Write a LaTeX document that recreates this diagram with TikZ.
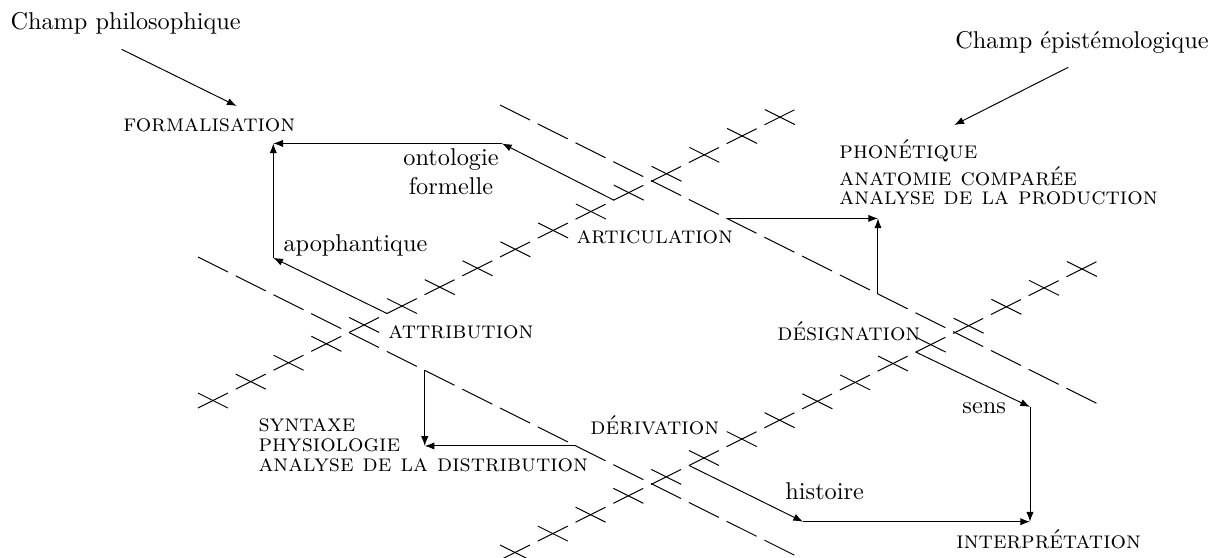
\documentclass[tikz,border=0pt]{standalone}
\usepackage{tikz}
\usetikzlibrary{arrows.meta}

\tikzset{
  fleche/.style={-{Latex[length=4pt,width=3pt]}},
  tirets/.style={dash pattern=on 0.485cm off 0.126cm},
  mot/.style={inner sep=0pt, anchor=base west},
  domaine/.style={mot, font=\scshape},
  serre/.style={domaine, align=left, font=\scshape\fontsize{10pt}{#1}\selectfont},
}

\begin{document}
\begin{tikzpicture}[scale=1.0]
    \useasboundingbox (0, 0) rectangle (17.627, 8.061);

    % les deux droites en tirets
    \draw[tirets] (7.236, 6.541) -- (15.875, 2.222);
    \draw[tirets] (2.865, 4.342) -- (11.504, 0.023);

    % les deux droites barrees
    \draw[tirets] (2.865, 2.156) -- (11.504, 6.475);
    \draw[tirets] (7.236, -0.043) -- (15.875, 4.276);
    \foreach \k in {0,...,15} {
        \draw ({2.865 + 0.547*\k}, {2.373 + 0.2735*\k}) -- ++(0.434, -0.217);
        \draw ({7.236 + 0.547*\k}, {0.174 + 0.2735*\k}) -- ++(0.434, -0.217);
    }

    % champs
    \node[mot] (philo) at (0.145, 7.627) {Champ philosophique};
    \node[mot] (episte) at (13.82, 7.352) {Champ épistémologique};
    \coordinate (philoFrom) at (1.761, 7.347);
    \coordinate (philoTo) at (3.425, 6.527);
    \coordinate (episteFrom) at (15.46, 7.087);
    \coordinate (episteTo) at (13.81, 6.252);
    \draw[fleche] (philoFrom) -- (philoTo);
    \draw[fleche] (episteFrom) -- (episteTo);

    % domaines
    \node[domaine] (formal) at (1.780, 6.165) {formalisation};
    \node[domaine] (phon) at (12.142, 5.760) {phonétique};
    \node[serre=7.5pt] (anat) at (12.142, 5.108) {anatomie comparée\\analyse de la production};
    \node[serre=8.2pt] (synt) at (3.734, 1.235) {syntaxe\\physiologie\\analyse de la distribution};
    \node[domaine] (interp) at (13.835, 0.130) {interprétation};

    % operations
    \node[domaine] (artic) at (8.336, 4.530) {articulation};
    \node[domaine] (attrib) at (5.615, 3.155) {attribution};
    \node[domaine] (design) at (11.244, 3.140) {désignation};
    \node[domaine] (deriv) at (8.538, 1.766) {dérivation};

    \node[align=center, inner sep=0pt] (onto) at (6.527, 5.572) {ontologie\\formelle};
    \node[mot] (apoph) at (4.096, 4.414) {apophantique};
    \node[mot] (sens) at (13.922, 2.084) {sens};
    \node[mot] (hist) at (11.360, 0.839) {histoire};

    \coordinate (ontoStart) at (8.882, 5.165);
    \coordinate (ontoCorner) at (7.265, 5.985);
    \coordinate (formCorner) at (3.955, 5.985);
    \coordinate (apoStart) at (5.600, 3.524);
    \coordinate (apoCorner) at (3.955, 4.330);
    \coordinate (articStart) at (10.518, 4.900);
    \coordinate (phonCorner) at (12.706, 4.900);
    \coordinate (phonStart) at (12.706, 3.806);
    \coordinate (designStart) at (13.253, 2.966);
    \coordinate (sensCorner) at (14.906, 2.172);
    \coordinate (interpCorner) at (14.906, 0.511);
    \coordinate (derivStart) at (9.971, 1.325);
    \coordinate (histCorner) at (11.621, 0.511);
    \coordinate (attribStart) at (6.147, 2.701);
    \coordinate (syntCorner) at (6.147, 1.607);
    \coordinate (distrStart) at (8.335, 1.607);

    \draw[fleche] (ontoStart) -- (ontoCorner);
    \draw[fleche] (ontoCorner) -- (formCorner);
    \draw[fleche] (apoStart) -- (apoCorner);
    \draw[fleche] (apoCorner) -- (formCorner);
    \draw[fleche] (articStart) -- (phonCorner);
    \draw[fleche] (phonStart) -- (phonCorner);
    \draw[fleche] (designStart) -- (sensCorner);
    \draw[fleche] (sensCorner) -- (interpCorner);
    \draw[fleche] (derivStart) -- (histCorner);
    \draw[fleche] (histCorner) -- (interpCorner);
    \draw[fleche] (attribStart) -- (syntCorner);
    \draw[fleche] (distrStart) -- (syntCorner);
\end{tikzpicture}
\end{document}
